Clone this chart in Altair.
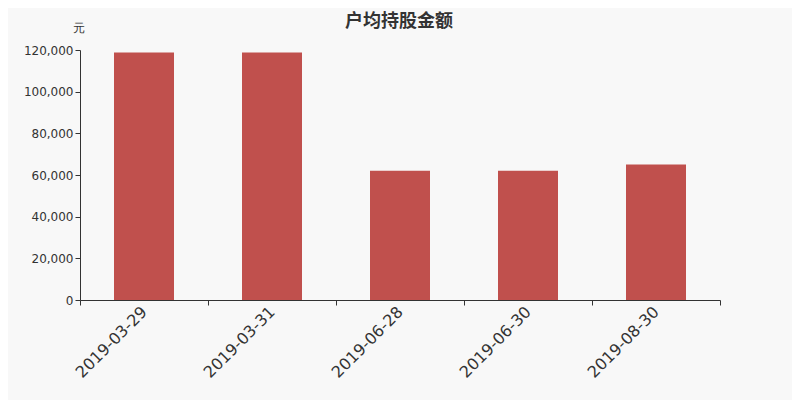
import altair as alt
import pandas as pd

dates = ["2019-03-29", "2019-03-31", "2019-06-28", "2019-06-30", "2019-08-30"]
values = [118800, 118800, 62100, 62100, 65000]

df = pd.DataFrame({"date": dates, "value": values})

chart = alt.Chart(df).mark_bar(color="#c0504d", width=60).encode(
    x=alt.X("date:N", sort=dates,
            scale=alt.Scale(paddingInner=0, paddingOuter=0),
            axis=alt.Axis(title=None, labelAngle=-45, labelAlign="right", labelBaseline="middle",
                          labelFontSize=16, labelColor="#333333", labelFont="DejaVu Sans",
                          tickBand="extent", domainColor="#333333", tickColor="#333333",
                          tickSize=5, labelPadding=4)),
    y=alt.Y("value:Q", scale=alt.Scale(domain=[0, 120000]),
            axis=alt.Axis(title="元", titleAngle=0, titleX=-2, titleY=-16, titleFontSize=12,
                          titleFontWeight="normal", titleColor="#333333", titleFont="DejaVu Sans",
                          titleAlign="center",
                          values=[0, 20000, 40000, 60000, 80000, 100000, 120000], format=",d",
                          grid=False, labelFontSize=12, labelColor="#333333", labelFont="DejaVu Sans",
                          domainColor="#333333", tickColor="#333333", tickSize=5)),
).properties(
    width=640, height=250,
    title=alt.TitleParams("户均持股金额", fontSize=18, fontWeight="bold", color="#333333",
                          anchor="middle", dx=-1, dy=10, offset=0, font="Noto Sans CJK SC"),
    background="#f8f8f8",
    autosize=alt.AutoSizeParams(type="none"),
    padding={"left": 72, "top": 42, "right": 72, "bottom": 100},
).configure_view(stroke=None)

chart.save("out.html", embed_options={"renderer": "svg", "actions": False})
